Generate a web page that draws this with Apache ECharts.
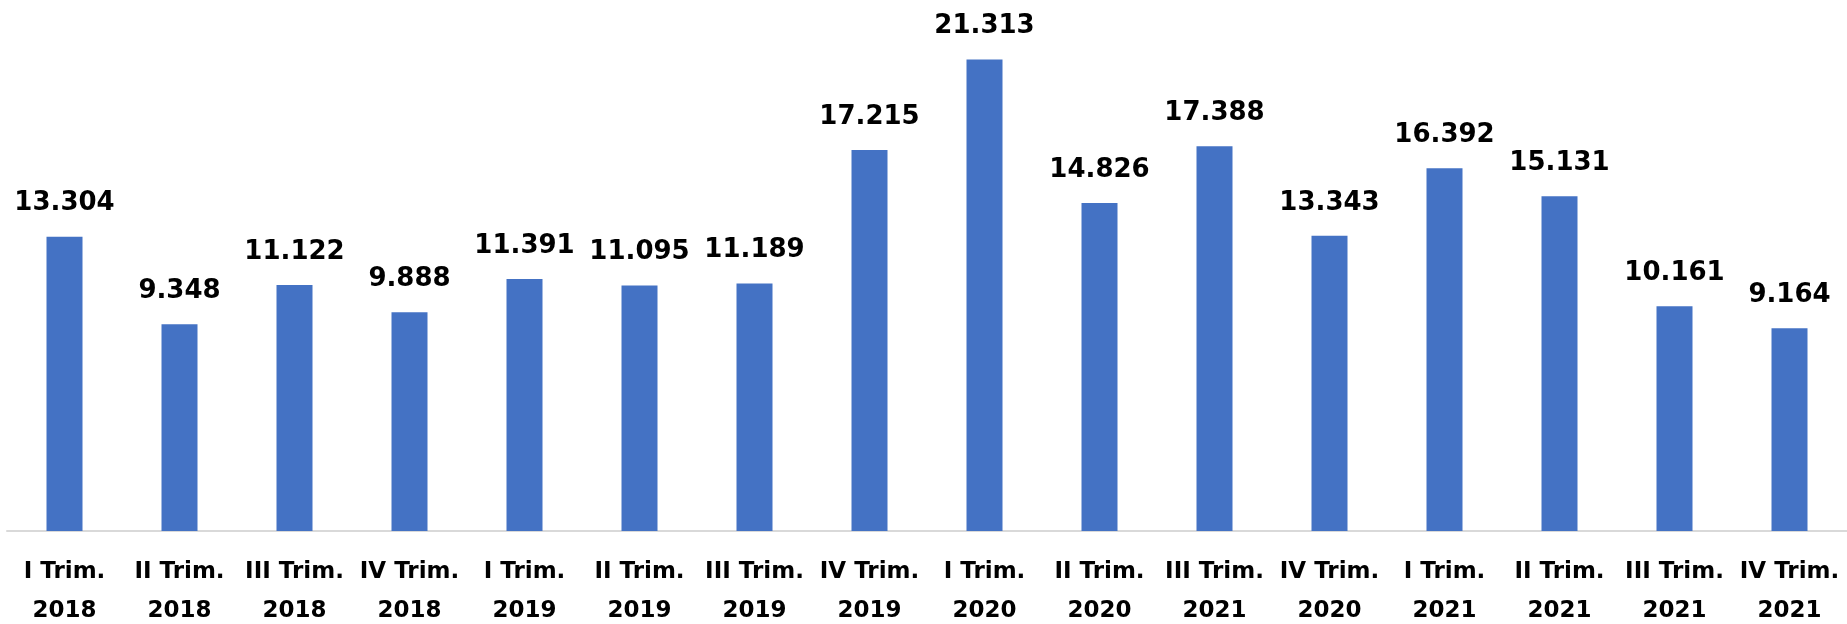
<!DOCTYPE html>
<html>
<head>
<meta charset="utf-8">
<script src="https://cdn.jsdelivr.net/npm/echarts@6/dist/echarts.min.js"></script>
<style>
  html, body { margin: 0; padding: 0; background: #fff; }
  #chart { width: 1847px; height: 624px; }
</style>
</head>
<body>
<div id="chart"></div>
<script>
// trimestres (tal como aparecen en el gráfico original)
const categorias = [
    'I Trim.\n2018', 'II Trim.\n2018', 'III Trim.\n2018', 'IV Trim.\n2018',
    'I Trim.\n2019', 'II Trim.\n2019', 'III Trim.\n2019', 'IV Trim.\n2019',
    'I Trim.\n2020', 'II Trim.\n2020', 'III Trim.\n2021', 'IV Trim.\n2020',
    'I Trim.\n2021', 'II Trim.\n2021', 'III Trim.\n2021', 'IV Trim.\n2021'
];

const valores = [
    13.304, 9.348, 11.122, 9.888,
    11.391, 11.095, 11.189, 17.215,
    21.313, 14.826, 17.388, 13.343,
    16.392, 15.131, 10.161, 9.164
];

const chart = echarts.init(document.getElementById('chart'));

const option = {
    backgroundColor: '#ffffff',
    animation: false,
    grid: {
        left: 7,
        right: 0,
        top: 0,
        bottom: 93,
        outerBoundsMode: 'none'
    },
    xAxis: {
        type: 'category',
        data: categorias,
        axisTick: { show: false },
        axisLine: { lineStyle: { color: '#d9d9d9', width: 2 } },
        axisLabel: {
            interval: 0,
            margin: 22,
            color: '#000',
            fontFamily: 'DejaVu Sans',
            fontWeight: 'bold',
            fontSize: 23,
            lineHeight: 39
        }
    },
    yAxis: {
        type: 'value',
        min: 0,
        max: 24,
        show: false,
        splitLine: { show: false }
    },
    series: [
        {
            type: 'bar',
            data: valores,
            barWidth: 36,
            itemStyle: { color: '#4472C4' },
            label: {
                show: true,
                position: 'top',
                distance: 20,
                color: '#000',
                fontFamily: 'DejaVu Sans',
                fontWeight: 'bold',
                fontSize: 26,
                formatter: p => p.value.toFixed(3)
            }
        }
    ]
};

chart.setOption(option);
</script>
</body>
</html>
